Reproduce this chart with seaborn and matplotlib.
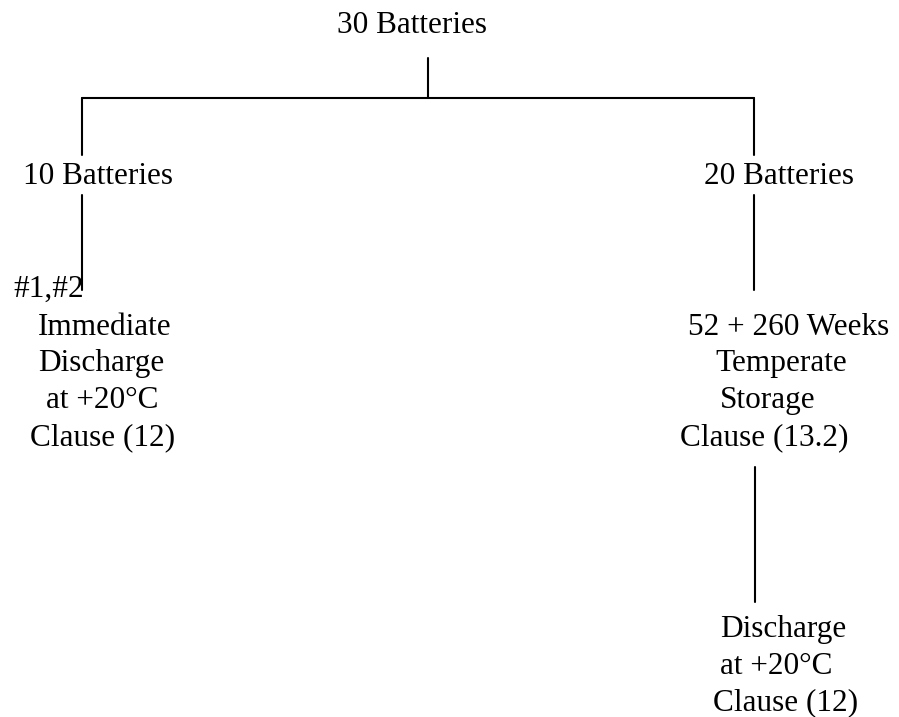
import matplotlib
matplotlib.use("Agg")
import matplotlib.pyplot as plt
import seaborn as sns
import pandas as pd

# Tree node labels (one entry per text line)
labels = ["30 Batteries", "10 Batteries", "20 Batteries", "#1,#2",
          "Immediate", "Discharge", "at +20°C", "Clause (12)",
          "52 + 260 Weeks", "Temperate", "Storage", "Clause (13.2)",
          "Discharge", "at +20°C", "Clause (12)"]
label_x = [337, 23, 704, 13, 38, 38, 46, 30, 688, 715, 720, 680, 720, 720, 713]
label_y = [33, 184, 184, 297, 335, 371, 408, 445, 335, 371, 408, 445, 637, 674, 710]

# Connector segments
seg_x0 = [428, 82, 82, 82, 754, 754, 755]
seg_y0 = [58, 98, 98, 195, 98, 195, 467]
seg_x1 = [428, 754, 82, 82, 754, 754, 755]
seg_y1 = [98, 98, 155, 290, 155, 290, 602]

rows = []
for i, (a, b, c, d) in enumerate(zip(seg_x0, seg_y0, seg_x1, seg_y1)):
    rows.append({"seg": i, "x": a, "y": b})
    rows.append({"seg": i, "x": c, "y": d})
segs = pd.DataFrame(rows)

sns.set_theme(style="white")
plt.rcParams["font.family"] = ["Liberation Serif", "DejaVu Serif"]

fig = plt.figure(figsize=(8.99, 7.17), dpi=100)
ax = fig.add_axes([0, 0, 1, 1])
sns.lineplot(data=segs, x="x", y="y", units="seg", estimator=None, sort=False,
             color="black", linewidth=1.5, ax=ax, legend=False)
for t, x, y in zip(labels, label_x, label_y):
    ax.text(x, y, t, ha="left", va="baseline", fontsize=22.5, color="black")

ax.set_xlim(0, 899)
ax.set_ylim(717, 0)
ax.set_axis_off()
fig.savefig("out.png", dpi=100, facecolor="white")
